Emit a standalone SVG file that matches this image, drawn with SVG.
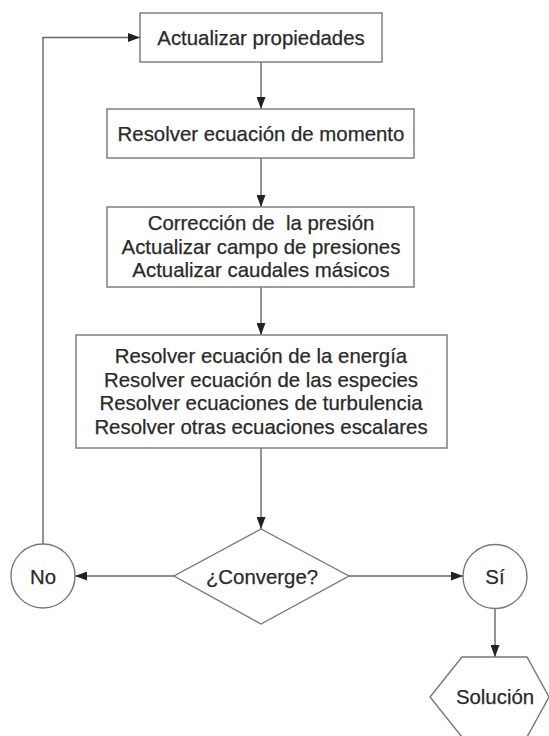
<svg xmlns="http://www.w3.org/2000/svg" width="549" height="736" viewBox="0 0 549 736">
<defs>
<marker id="ah" viewBox="0 0 12 9" refX="12" refY="4.5" markerWidth="12" markerHeight="9" markerUnits="userSpaceOnUse" orient="auto">
<path d="M0,0 L12,4.5 L0,9 Z" fill="#222"/>
</marker>
<style>
.n{fill:#fff;stroke:#777;stroke-width:1.4}
.t{font-family:"Liberation Sans",Arial,sans-serif;font-size:20.4px;fill:#2a2a2a;stroke:#2a2a2a;stroke-width:0.25;text-anchor:middle;white-space:pre}
.c{fill:none;stroke:#666;stroke-width:1.4;marker-end:url(#ah)}
</style>
</defs>
<rect width="549" height="736" fill="#fff"/>
<g id="connectors">
<path class="c" d="M261,62 V109"/>
<path class="c" d="M261,158 V207"/>
<path class="c" d="M261,287 V335"/>
<path class="c" d="M261,448 V529"/>
<path class="c" d="M174,576 H75"/>
<path class="c" d="M349,576 H463"/>
<path class="c" d="M495,608.5 V657"/>
<path class="c" d="M43,544 V37.5 H140"/>
</g>
<g id="n1">
<rect class="n" x="140" y="13" width="242" height="49"/>
<text class="t" x="261" y="44.5">Actualizar propiedades</text>
</g>
<g id="n2">
<rect class="n" x="107" y="109" width="307" height="49"/>
<text class="t" x="261" y="141">Resolver ecuación de momento</text>
</g>
<g id="n3">
<rect class="n" x="107" y="207" width="307" height="80"/>
<text class="t" x="261" y="229.5" xml:space="preserve">Corrección de  la presión</text>
<text class="t" x="261" y="253.5">Actualizar campo de presiones</text>
<text class="t" x="261" y="277">Actualizar caudales másicos</text>
</g>
<g id="n4">
<rect class="n" x="76" y="335" width="371" height="113"/>
<text class="t" x="261" y="362.5">Resolver ecuación de la energía</text>
<text class="t" x="261" y="386.5">Resolver ecuación de las especies</text>
<text class="t" x="261" y="410">Resolver ecuaciones de turbulencia</text>
<text class="t" x="261" y="434">Resolver otras ecuaciones escalares</text>
</g>
<g id="n5">
<polygon class="n" points="261,529 349,576 261,624 174,576"/>
<text class="t" x="262" y="583.5">¿Converge?</text>
</g>
<g id="n6">
<circle class="n" cx="43" cy="576" r="32"/>
<text class="t" x="43" y="583.5">No</text>
</g>
<g id="n7">
<circle class="n" cx="495" cy="576.5" r="32"/>
<text class="t" x="495" y="583.5">Sí</text>
</g>
<g id="n8">
<polygon class="n" points="462,657 527,657 549,697 527,737 462,737 430,697"/>
<text class="t" x="495" y="704">Solución</text>
</g>
</svg>
